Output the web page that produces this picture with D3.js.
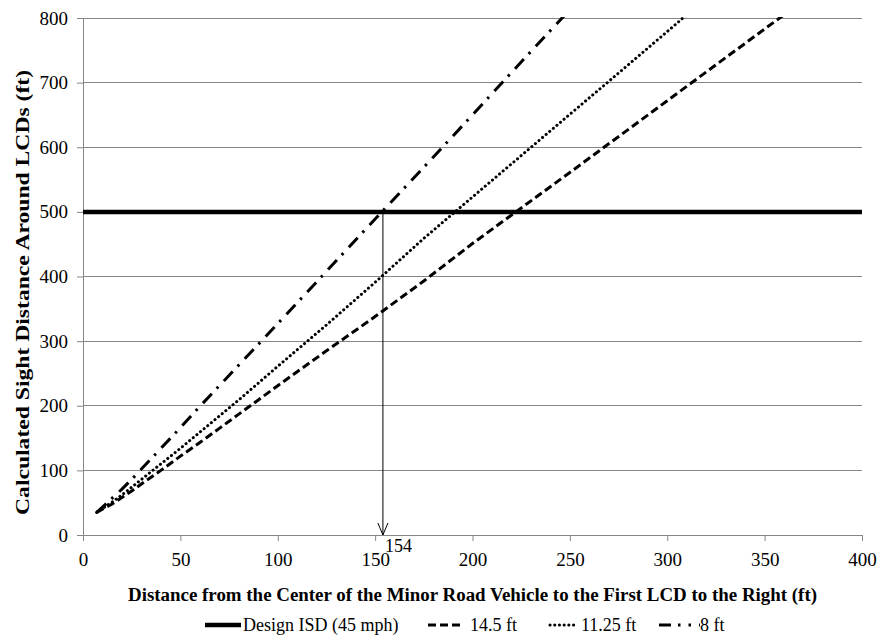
<!DOCTYPE html>
<html><head><meta charset="utf-8">
<script src="https://cdn.jsdelivr.net/npm/d3@7"></script>
<style>body{margin:0;background:#fff}svg{display:block}</style>
</head><body>
<svg id="c" width="881" height="640"></svg>
<script>
// ---- data ----
const xTicks = [0, 50, 100, 150, 200, 250, 300, 350, 400];
const yTicks = [0, 100, 200, 300, 400, 500, 600, 700, 800];
const designISD = 500;
const designLabel = "Design ISD (45 mph)";
const x145 = [7, 10, 15, 20, 25, 30, 40, 50, 60, 70, 80, 90, 100, 125, 150, 175, 200, 250, 300, 350, 360];
const y145 = [35, 40, 48, 58, 68, 79, 100, 122, 143, 165, 187, 209, 231, 285, 338, 393, 451, 561, 672, 783, 805];
const x1125 = [7, 10, 15, 20, 25, 30, 40, 50, 60, 70, 80, 90, 100, 125, 150, 175, 200, 250, 270, 300, 310];
const y1125 = [35, 41, 51, 62, 74, 86, 110, 134, 159, 184, 209, 235, 261, 325, 391, 459, 523, 651, 702, 779, 805];
const x8 = [7, 10, 15, 20, 25, 30, 40, 50, 60, 70, 80, 90, 100, 125, 150, 175, 200, 225, 250];
const y8 = [35, 43, 57, 71, 86, 102, 134, 166, 199, 231, 263, 295, 327, 408, 489, 569, 650, 732, 813];
const markerX = 154;
const markerLabel = "154";
const xTitle = "Distance from the Center of the Minor Road Vehicle to the First LCD to the Right (ft)";
const yTitle = "Calculated Sight Distance Around LCDs (ft)";

const seriesDefs = [
  {name: "14.5 ft", xs: x145, ys: y145, dash: "8,4", w: 3, cap: "butt"},
  {name: "11.25 ft", xs: x1125, ys: y1125, dash: "0.1,4.6", w: 3, cap: "round"},
  {name: "8 ft", xs: x8, ys: y8, dash: "13,7,2.5,8", w: 3, cap: "butt"}
];

// ---- layout ----
const svg = d3.select("#c");
const L = 83, R = 862, T = 18, B = 535;
const x = d3.scaleLinear().domain([0, 400]).range([L, R]);
const y = d3.scaleLinear().domain([0, 800]).range([B, T]);
const font = "'Times New Roman', Times, 'Liberation Serif', Tinos, 'DejaVu Serif', 'Noto Serif', serif";
const grey = "#868686";

// gridlines
svg.append("g").selectAll("line").data(yTicks.filter(d => d > 0)).join("line")
  .attr("x1", L).attr("x2", R).attr("y1", d => y(d)).attr("y2", d => y(d))
  .attr("stroke", grey).attr("stroke-width", 1).attr("shape-rendering", "crispEdges");

// y axis
const yAxis = svg.append("g").attr("transform", `translate(${L},0)`)
  .call(d3.axisLeft(y).tickValues(yTicks).tickSize(6).tickPadding(9).tickSizeOuter(0));
yAxis.attr("font-family", null);
yAxis.select(".domain").attr("stroke", grey);
yAxis.selectAll(".tick line").attr("stroke", grey);
yAxis.selectAll("text").style("font-family", font).style("font-size", "19px").attr("fill", "#000");

// x axis
const xAxis = svg.append("g").attr("transform", `translate(0,${B})`)
  .call(d3.axisBottom(x).tickValues(xTicks).tickSize(6).tickPadding(12).tickSizeOuter(0));
xAxis.attr("font-family", null);
xAxis.select(".domain").attr("stroke", grey);
xAxis.selectAll(".tick line").attr("stroke", grey);
xAxis.selectAll("text").style("font-family", font).style("font-size", "19px").attr("fill", "#000");

// clip
svg.append("clipPath").attr("id", "clip").append("rect")
  .attr("x", L).attr("y", T - 1).attr("width", R - L).attr("height", B - T + 1);

// series
const line = d3.line().x(d => x(d[0])).y(d => y(d[1]));
const g = svg.append("g").attr("clip-path", "url(#clip)");
seriesDefs.forEach(s => {
  const pts = s.xs.map((v, i) => [v, s.ys[i]]);
  g.append("path").datum(pts).attr("d", line)
    .attr("fill", "none").attr("stroke", "#000").attr("stroke-width", s.w)
    .attr("stroke-dasharray", s.dash).attr("stroke-linecap", s.cap);
});

// design ISD line
svg.append("line").attr("x1", L).attr("x2", R)
  .attr("y1", y(designISD)).attr("y2", y(designISD))
  .attr("stroke", "#000").attr("stroke-width", 4.5);

// marker arrow
const mx = x(markerX);
svg.append("line").attr("x1", mx).attr("x2", mx).attr("y1", y(designISD)).attr("y2", y(0))
  .attr("stroke", "#000").attr("stroke-width", 1);
svg.append("path")
  .attr("d", `M${mx - 5},${y(0) - 12}L${mx},${y(0)}L${mx + 5},${y(0) - 12}`)
  .attr("fill", "none").attr("stroke", "#000").attr("stroke-width", 1);
svg.append("text").attr("x", mx + 2).attr("y", y(0) + 17)
  .style("font-family", font).style("font-size", "18px").text(markerLabel);

// axis titles
svg.append("text").attr("x", (L + R) / 2).attr("y", 601)
  .attr("text-anchor", "middle").style("font-family", font).attr("font-weight", "bold")
  .style("font-size", "18px").attr("textLength", 689).attr("lengthAdjust", "spacingAndGlyphs").text(xTitle);
svg.append("text").attr("transform", `translate(29,${(T + B) / 2 + 16}) rotate(-90)`)
  .attr("text-anchor", "middle").style("font-family", font).attr("font-weight", "bold")
  .style("font-size", "18px").attr("textLength", 445).attr("lengthAdjust", "spacingAndGlyphs").text(yTitle);

// legend
const ly = 625;
const legendItems = [
  {x0: 205, x1: 241, tx: 243, label: designLabel, w: 4.5, dash: null, cap: "butt"},
  {x0: 428, x1: 462, tx: 470, label: seriesDefs[0].name, w: 3, dash: seriesDefs[0].dash, cap: "butt"},
  {x0: 550, x1: 577, tx: 581, label: seriesDefs[1].name, w: 3, dash: seriesDefs[1].dash, cap: "round"},
  {x0: 659, x1: 700, tx: 700, label: seriesDefs[2].name, w: 3, dash: "12,7,2.5,8,2.5,8", cap: "butt"}
];
legendItems.forEach(it => {
  const l = svg.append("line").attr("x1", it.x0).attr("x2", it.x1).attr("y1", ly).attr("y2", ly)
    .attr("stroke", "#000").attr("stroke-width", it.w).attr("stroke-linecap", it.cap);
  if (it.dash) l.attr("stroke-dasharray", it.dash);
  svg.append("text").attr("x", it.tx).attr("y", ly + 6)
    .style("font-family", font).style("font-size", "18px").text(it.label);
});
</script>
</body></html>
